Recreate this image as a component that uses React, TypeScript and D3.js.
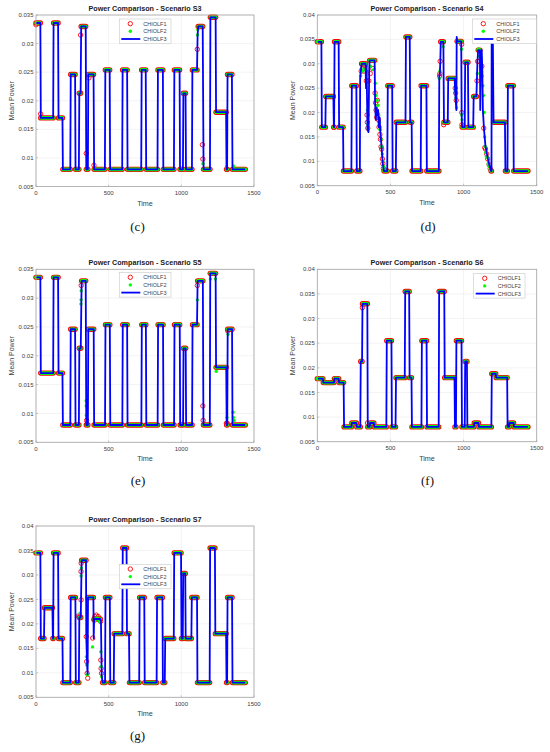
import * as d3 from "d3";

type Seg = [number, number, number];
type Pt = [number, number];

const X_TICKS = [0, 500, 1000, 1500];
const Y_TICKS_35 = [0.005, 0.01, 0.015, 0.02, 0.025, 0.03, 0.035];
const Y_TICKS_40 = [0.005, 0.01, 0.015, 0.02, 0.025, 0.03, 0.035, 0.04];
const SERIES = ["CHIOLF1", "CHIOLF2", "CHIOLF3"];

// plateaus: [start time, end time, mean power]
const s3Steps: Seg[] = [
  [0, 30, 0.0336], [33, 118, 0.017], [121, 152, 0.0336], [155, 182, 0.017], [185, 236, 0.008],
  [239, 269, 0.0246], [272, 295, 0.008], [298, 307, 0.0213], [311, 342, 0.033], [346, 357, 0.008],
  [360, 396, 0.0246], [400, 474, 0.008], [477, 507, 0.0254], [510, 593, 0.008], [596, 627, 0.0254],
  [630, 724, 0.008], [727, 755, 0.0254], [758, 836, 0.008], [839, 873, 0.0254], [876, 949, 0.008],
  [952, 988, 0.0254], [991, 1011, 0.008], [1014, 1029, 0.0213], [1032, 1073, 0.008], [1076, 1108, 0.0254],
  [1116, 1147, 0.033], [1153, 1197, 0.008], [1200, 1236, 0.0346], [1239, 1308, 0.018], [1311, 1315, 0.008],
  [1318, 1348, 0.0246], [1352, 1440, 0.008],
];
const s3Red: Pt[] = [
  [0, 0.0333], [32, 0.0177], [307, 0.0315], [346, 0.0108], [364, 0.024], [399, 0.0087], [1110, 0.029],
  [1145, 0.0123], [1148, 0.0098], [1312, 0.008], [1316, 0.008],
];
const s3Green: Pt[] = [[1111, 0.0315], [1113, 0.0324], [1149, 0.009], [1311, 0.0084], [1358, 0.0086]];
const s3Blue: Pt[] = [[1112, 0.0315]];

const s4Steps: Seg[] = [
  [0, 28, 0.0345], [31, 55, 0.017], [58, 110, 0.0233], [113, 115, 0.017], [118, 146, 0.0345],
  [149, 176, 0.017], [179, 233, 0.008], [236, 267, 0.0255], [270, 291, 0.008], [303, 330, 0.03],
  [358, 392, 0.0307], [456, 478, 0.008], [482, 512, 0.0255], [515, 537, 0.008], [540, 603, 0.018],
  [606, 632, 0.0355], [635, 645, 0.018], [648, 707, 0.008], [710, 746, 0.0255], [749, 831, 0.008],
  [844, 862, 0.0345], [866, 892, 0.018], [895, 939, 0.027], [956, 984, 0.0346], [991, 1008, 0.017],
  [1011, 1030, 0.0303], [1033, 1066, 0.017], [1069, 1088, 0.0233], [1100, 1112, 0.0328], [1188, 1191, 0.008],
  [1205, 1283, 0.018], [1286, 1300, 0.008], [1303, 1340, 0.0255], [1343, 1440, 0.008],
];
const s4Red: Pt[] = [
  [112, 0.017], [300, 0.0285], [310, 0.029], [318, 0.0285], [325, 0.0295], [335, 0.0265], [340, 0.0195],
  [342, 0.018], [345, 0.0168], [352, 0.0265], [362, 0.028], [380, 0.029], [395, 0.024], [398, 0.022],
  [402, 0.0205], [406, 0.019], [410, 0.0225], [412, 0.0195], [418, 0.0185], [422, 0.017], [428, 0.0155],
  [432, 0.0145], [436, 0.013], [440, 0.0125], [445, 0.0105], [448, 0.0095], [452, 0.0085],
  [836, 0.0275], [838, 0.028], [840, 0.0305], [864, 0.0175], [943, 0.025], [946, 0.024], [950, 0.0225],
  [987, 0.034], [988, 0.02], [989, 0.0175], [1092, 0.0265], [1096, 0.0305], [1105, 0.0305], [1125, 0.0295],
  [1138, 0.0168], [1145, 0.0128], [1150, 0.0125], [1158, 0.0115], [1165, 0.0105], [1175, 0.0093], [1182, 0.0085],
];
const s4Green: Pt[] = [
  [296, 0.0275], [300, 0.029], [312, 0.0285], [322, 0.0288], [338, 0.0285], [342, 0.0205], [346, 0.0175],
  [350, 0.0168], [365, 0.0295], [385, 0.0288], [396, 0.026], [400, 0.0235], [404, 0.021], [408, 0.0225],
  [412, 0.02], [415, 0.0215], [420, 0.0195], [424, 0.018], [428, 0.0165], [432, 0.0165], [436, 0.0145],
  [440, 0.013], [445, 0.0115], [448, 0.01], [452, 0.009], [456, 0.0085],
  [834, 0.027], [838, 0.0285], [860, 0.0335], [944, 0.0245], [948, 0.023], [952, 0.021], [986, 0.033],
  [988, 0.0195], [990, 0.0185], [1094, 0.028], [1100, 0.033], [1105, 0.033], [1110, 0.0315], [1115, 0.0325],
  [1120, 0.031], [1128, 0.0275], [1132, 0.0255], [1136, 0.0235], [1140, 0.02], [1144, 0.015], [1148, 0.013],
  [1152, 0.0118], [1156, 0.011], [1162, 0.0108], [1168, 0.0095], [1175, 0.009], [1182, 0.0083],
];
const s4Blue: Pt[] = [
  [293, 0.027], [297, 0.0285], [333, 0.025], [337, 0.0295], [343, 0.0165], [350, 0.016], [355, 0.029],
  [395, 0.022], [400, 0.0185], [405, 0.021], [410, 0.0195], [416, 0.0205], [420, 0.017], [426, 0.019],
  [432, 0.0155], [438, 0.0135], [445, 0.0105], [450, 0.009], [834, 0.0275], [838, 0.028], [841, 0.0305],
  [942, 0.0245], [947, 0.022], [951, 0.0205], [953, 0.0355], [987, 0.0195], [989, 0.0175],
  [1091, 0.0265], [1095, 0.0305], [1114, 0.0205], [1118, 0.031], [1124, 0.0328], [1128, 0.029],
  [1132, 0.0205], [1140, 0.0165], [1150, 0.013], [1160, 0.0115], [1170, 0.01], [1180, 0.0088],
  [1192, 0.0355], [1200, 0.0355],
];

const s5Steps: Seg[] = [
  [0, 30, 0.0336], [33, 118, 0.017], [121, 152, 0.0336], [155, 182, 0.017], [185, 236, 0.008],
  [239, 269, 0.0246], [272, 295, 0.008], [298, 308, 0.0213], [314, 342, 0.033], [346, 357, 0.008],
  [360, 397, 0.0246], [400, 475, 0.008], [478, 508, 0.0254], [511, 594, 0.008], [597, 627, 0.0254],
  [630, 725, 0.008], [728, 756, 0.0254], [759, 837, 0.008], [840, 874, 0.0254], [877, 950, 0.008],
  [953, 989, 0.0254], [992, 1012, 0.008], [1015, 1030, 0.0213], [1033, 1074, 0.008], [1077, 1108, 0.0254],
  [1112, 1148, 0.033], [1152, 1196, 0.008], [1199, 1236, 0.0343], [1239, 1309, 0.018], [1312, 1316, 0.008],
  [1319, 1349, 0.0246], [1352, 1440, 0.008],
];
const s5Red: Pt[] = [
  [311, 0.0322], [348, 0.0088], [1110, 0.0322], [1148, 0.0113], [1150, 0.0088], [1310, 0.0083],
  [1316, 0.0083], [1320, 0.0243],
];
const s5Green: Pt[] = [
  [309, 0.029], [310, 0.0297], [311, 0.0313], [345, 0.0122], [346, 0.0113], [347, 0.0097], [1110, 0.0297],
  [1200, 0.0333], [1234, 0.0333], [1240, 0.0173], [1314, 0.0093], [1322, 0.0237], [1356, 0.0102],
  [1358, 0.0093], [1362, 0.0088],
];
const s5Blue: Pt[] = [];

const s6Steps: Seg[] = [
  [0, 38, 0.0178], [41, 114, 0.017], [117, 146, 0.0178], [149, 180, 0.017], [183, 233, 0.008],
  [236, 267, 0.0088], [270, 294, 0.008], [297, 306, 0.0213], [309, 342, 0.033], [345, 358, 0.008],
  [361, 387, 0.0088], [390, 472, 0.008], [475, 507, 0.0255], [510, 535, 0.008], [538, 598, 0.018],
  [601, 628, 0.0355], [631, 644, 0.018], [647, 712, 0.008], [715, 747, 0.0255], [750, 830, 0.008],
  [833, 868, 0.0355], [871, 938, 0.018], [941, 948, 0.008], [951, 986, 0.0255], [989, 1008, 0.008],
  [1011, 1023, 0.0213], [1026, 1070, 0.008], [1073, 1102, 0.0088], [1105, 1190, 0.008], [1193, 1220, 0.0188],
  [1223, 1298, 0.018], [1301, 1311, 0.008], [1314, 1342, 0.0088], [1345, 1440, 0.008],
];
const s6Red: Pt[] = [[308, 0.0322], [343, 0.0088]];
const s6Green: Pt[] = [];
const s6Blue: Pt[] = [];

const s7Steps: Seg[] = [
  [0, 30, 0.0345], [33, 55, 0.017], [58, 113, 0.0233], [116, 118, 0.017], [121, 152, 0.0345],
  [155, 182, 0.017], [185, 236, 0.008], [239, 271, 0.0254], [274, 295, 0.008], [298, 308, 0.0213],
  [314, 344, 0.033], [358, 395, 0.0254], [400, 442, 0.021], [458, 475, 0.008], [478, 508, 0.0254],
  [511, 535, 0.008], [538, 594, 0.018], [597, 623, 0.0355], [626, 640, 0.018], [643, 710, 0.008],
  [713, 745, 0.0254], [748, 830, 0.008], [833, 870, 0.0254], [873, 886, 0.008], [889, 948, 0.017],
  [951, 998, 0.0345], [1001, 1010, 0.017], [1013, 1027, 0.0303], [1030, 1069, 0.017], [1072, 1108, 0.0254],
  [1111, 1195, 0.008], [1198, 1231, 0.0355], [1234, 1308, 0.018], [1311, 1315, 0.008], [1318, 1349, 0.0254],
  [1352, 1440, 0.008],
];
const s7Red: Pt[] = [
  [291, 0.0216], [303, 0.0215], [310, 0.0249], [310, 0.0307], [311, 0.0324], [346, 0.0174], [349, 0.0123],
  [352, 0.0099], [356, 0.0089], [390, 0.0171], [398, 0.0208], [405, 0.0215], [415, 0.0218], [428, 0.0215],
  [438, 0.021], [444, 0.0205], [446, 0.0126], [448, 0.0109], [451, 0.0099],
];
const s7Green: Pt[] = [
  [303, 0.0222], [310, 0.0298], [312, 0.0314], [347, 0.0133], [349, 0.0116], [353, 0.0096], [389, 0.0153],
  [402, 0.0205], [420, 0.0212], [436, 0.0205], [446, 0.0143], [449, 0.0113], [452, 0.0092],
];
const s7Blue: Pt[] = [[346, 0.0172], [352, 0.0115], [355, 0.0097], [397, 0.017], [447, 0.0205], [452, 0.0095]];

const RED = "#ff0000";
const GREEN = "#00ff00";
const BLUE = "#0000ff";
const AXIS = "#a6a6a6";
const TXT = "#404040";
const SANS = "'Liberation Sans', Arial, sans-serif";
const SERIF = "'Liberation Serif', 'Times New Roman', serif";

interface PanelProps {
  l: number; r: number; t: number; b: number;
  yMax: number; yTicks: number[];
  title: string; tag: string; tagX: number; tagY: number;
  legX: number; legY: number; legW: number;
  steps: Seg[]; red: Pt[]; green: Pt[]; blue: Pt[];
}

function Panel(p: PanelProps) {
  const x = d3.scaleLinear().domain([0, 1500]).range([p.l, p.r]);
  const y = d3.scaleLinear().domain([0.005, p.yMax]).range([p.b, p.t]);
  const seg = (s: Seg) => `M${x(s[0])},${y(s[2])}L${x(s[1])},${y(s[2])}`;
  const bluePts: Pt[] = [
    ...p.steps.flatMap(s => [[s[0], s[2]], [s[1], s[2]]] as Pt[]),
    ...p.blue,
  ].sort((a, b) => a[0] - b[0]);
  const line = d3.line<Pt>().x(d => x(d[0])).y(d => y(d[1]));
  const fmt = (v: number) => String(+v.toFixed(3));
  const cx = (p.l + p.r) / 2;

  return (
    <g>
      <rect x={p.l} y={p.t} width={p.r - p.l} height={p.b - p.t} fill="#fff" />
      {/* grid */}
      {X_TICKS.map(v => (
        <line key={"gx" + v} x1={x(v)} x2={x(v)} y1={p.t} y2={p.b} stroke="#ebebeb" strokeWidth={0.6} />
      ))}
      {p.yTicks.map(v => (
        <line key={"gy" + v} x1={p.l} x2={p.r} y1={y(v)} y2={y(v)} stroke="#ebebeb" strokeWidth={0.6} />
      ))}

      {/* CHIOLF1 markers */}
      {p.steps.map((s, i) => (
        <path key={"rb" + i} d={seg(s)} stroke={RED} strokeWidth={5.4} strokeLinecap="round" fill="none" />
      ))}
      {p.red.map((d, i) => (
        <circle key={"rc" + i} cx={x(d[0])} cy={y(d[1])} r={2.2} fill="none" stroke={RED} strokeWidth={0.9} />
      ))}
      {/* CHIOLF2 markers */}
      {p.steps.map((s, i) => (
        <path key={"gb" + i} d={seg(s)} stroke={GREEN} strokeWidth={3.6} strokeLinecap="round" fill="none" />
      ))}
      {p.green.map((d, i) => (
        <circle key={"gc" + i} cx={x(d[0])} cy={y(d[1])} r={1.7} fill={GREEN} />
      ))}
      {/* CHIOLF3 line */}
      <path d={line(bluePts) ?? ""} fill="none" stroke={BLUE} strokeWidth={1.8} strokeLinejoin="round" />

      {/* axes box */}
      <rect x={p.l} y={p.t} width={p.r - p.l} height={p.b - p.t} fill="none" stroke={AXIS} strokeWidth={0.8} />
      {X_TICKS.map(v => (
        <g key={"xt" + v}>
          <line x1={x(v)} x2={x(v)} y1={p.b} y2={p.b - 2} stroke={AXIS} strokeWidth={0.6} />
          <text x={x(v)} y={p.b + 8.5} textAnchor="middle" fontSize={6} fill={TXT} fontFamily={SANS}>{v}</text>
        </g>
      ))}
      {p.yTicks.map(v => (
        <g key={"yt" + v}>
          <line x1={p.l} x2={p.l + 2} y1={y(v)} y2={y(v)} stroke={AXIS} strokeWidth={0.6} />
          <text x={p.l - 2.5} y={y(v)} dy="0.35em" textAnchor="end" fontSize={6} fill={TXT} fontFamily={SANS}>{fmt(v)}</text>
        </g>
      ))}
      <text x={cx} y={p.b + 19} textAnchor="middle" fontSize={7.2} fill={TXT} fontFamily={SANS}>Time</text>
      <text transform={`translate(${p.l - 24.3},${(p.t + p.b) / 2}) rotate(-90)`} textAnchor="middle"
        dy="0.35em" fontSize={7} fill={TXT} fontFamily={SANS}>Mean Power</text>
      <text x={cx} y={p.t - 4} textAnchor="middle" fontSize={7.2} fontWeight="bold" fill="#1a1a1a" fontFamily={SANS}>
        {p.title}
      </text>

      {/* legend */}
      <g transform={`translate(${p.legX},${p.legY})`}>
        <rect width={p.legW} height={24.5} fill="#fff" stroke="#c8c8c8" strokeWidth={0.6} />
        <circle cx={11} cy={4.7} r={2.2} fill="none" stroke={RED} strokeWidth={0.9} />
        <circle cx={11} cy={12.3} r={1.7} fill={GREEN} />
        <line x1={2} x2={21} y1={20} y2={20} stroke={BLUE} strokeWidth={1.8} />
        {SERIES.map((s, i) => (
          <text key={s} x={24} y={4.7 + i * 7.65} dy="0.35em" fontSize={5.5} fill={TXT} fontFamily={SANS}>{s}</text>
        ))}
      </g>

      <text x={p.tagX} y={p.tagY} textAnchor="middle" fontSize={13} fill="#111" fontFamily={SERIF}>{p.tag}</text>
    </g>
  );
}

export default function App() {
  return (
    <svg width={550} height={752} style={{ position: "absolute", left: 0, top: 0, background: "#fff" }}>
      <rect width={550} height={752} fill="#fff" />
      <Panel l={36} r={254} t={15} b={186.5} yMax={0.035} yTicks={Y_TICKS_35}
        title="Power Comparison - Scenario S3" tag="(c)" tagX={137.5} tagY={231}
        legX={119.3} legY={19} legW={51.7} steps={s3Steps} red={s3Red} green={s3Green} blue={s3Blue} />
      <Panel l={317.3} r={536.7} t={15} b={185.7} yMax={0.04} yTicks={Y_TICKS_40}
        title="Power Comparison - Scenario S4" tag="(d)" tagX={428} tagY={231}
        legX={472.3} legY={19} legW={64} steps={s4Steps} red={s4Red} green={s4Green} blue={s4Blue} />
      <Panel l={36} r={254} t={269.3} b={442.3} yMax={0.035} yTicks={Y_TICKS_35}
        title="Power Comparison - Scenario S5" tag="(e)" tagX={138} tagY={485}
        legX={119.3} legY={272.6} legW={51.7} steps={s5Steps} red={s5Red} green={s5Green} blue={s5Blue} />
      <Panel l={317.3} r={536.7} t={269.3} b={441.7} yMax={0.04} yTicks={Y_TICKS_40}
        title="Power Comparison - Scenario S6" tag="(f)" tagX={427.5} tagY={485}
        legX={473.7} legY={273.6} legW={51.3} steps={s6Steps} red={s6Red} green={s6Green} blue={s6Blue} />
      <Panel l={36} r={254} t={526} b={697.3} yMax={0.04} yTicks={Y_TICKS_40}
        title="Power Comparison - Scenario S7" tag="(g)" tagX={137.5} tagY={740}
        legX={119.3} legY={564.3} legW={51.7} steps={s7Steps} red={s7Red} green={s7Green} blue={s7Blue} />
    </svg>
  );
}
